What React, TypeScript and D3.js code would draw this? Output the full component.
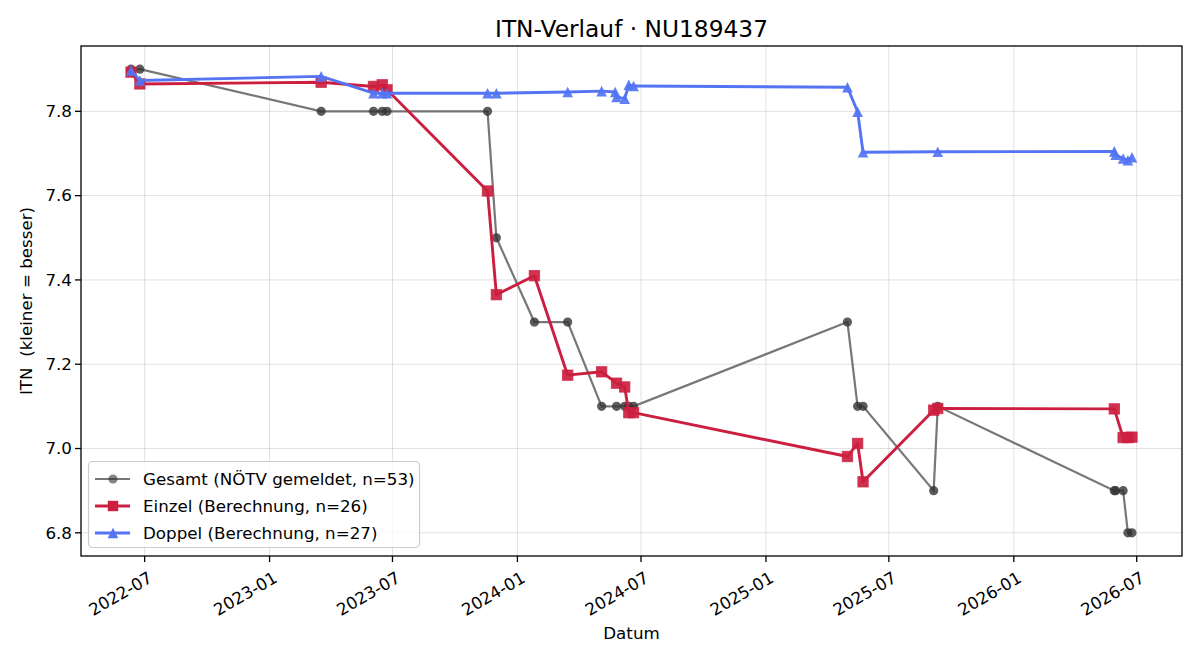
import React from "react";
import * as d3 from "d3";

// ---- data ----
const gesamtDates = [
  "2022-06-11", "2022-06-24", "2023-03-18", "2023-06-03", "2023-06-16", "2023-06-23",
  "2023-11-18", "2023-12-01", "2024-01-26", "2024-03-15", "2024-05-04", "2024-05-26",
  "2024-06-07", "2024-06-13", "2024-06-20", "2025-05-01", "2025-05-16", "2025-05-24",
  "2025-09-05", "2025-09-11", "2026-05-29", "2026-05-31", "2026-06-11", "2026-06-18",
  "2026-06-24",
];
const gesamtValues = [
  7.9, 7.9, 7.8, 7.8, 7.8, 7.8,
  7.8, 7.5, 7.3, 7.3, 7.1, 7.1,
  7.1, 7.1, 7.1, 7.3, 7.1, 7.1,
  6.9, 7.1, 6.9, 6.9, 6.9, 6.8,
  6.8,
];

const einzelDates = [
  "2022-06-11", "2022-06-24", "2023-03-18", "2023-06-03", "2023-06-16", "2023-06-23",
  "2023-11-18", "2023-12-01", "2024-01-26", "2024-03-15", "2024-05-04", "2024-05-26",
  "2024-06-07", "2024-06-13", "2024-06-20", "2025-05-01", "2025-05-16", "2025-05-24",
  "2025-09-05", "2025-09-11", "2026-05-29", "2026-06-11", "2026-06-18", "2026-06-24",
];
const einzelValues = [
  7.893, 7.865, 7.869, 7.859, 7.863, 7.851,
  7.611, 7.365, 7.41, 7.174, 7.182, 7.155,
  7.146, 7.085, 7.085, 6.981, 7.012, 6.921,
  7.091, 7.095, 7.094, 7.026, 7.026, 7.027,
];

const doppelDates = [
  "2022-06-11", "2022-06-24", "2023-03-18", "2023-06-03", "2023-06-16", "2023-06-23",
  "2023-11-18", "2023-12-01", "2024-03-15", "2024-05-04", "2024-05-24", "2024-05-26",
  "2024-06-07", "2024-06-13", "2024-06-20", "2025-05-01", "2025-05-16", "2025-05-24",
  "2025-09-11", "2026-05-29", "2026-05-31", "2026-06-11", "2026-06-18", "2026-06-24",
];
const doppelValues = [
  7.897, 7.873, 7.883, 7.843, 7.843, 7.843,
  7.843, 7.843, 7.846, 7.848, 7.846, 7.834,
  7.83, 7.863, 7.86, 7.857, 7.799, 7.703,
  7.704, 7.705, 7.697, 7.688, 7.684, 7.691,
];

const legendLabels = [
  "Gesamt (NÖTV gemeldet, n=53)",
  "Einzel (Berechnung, n=26)",
  "Doppel (Berechnung, n=27)",
];
const yTicks = [6.8, 7.0, 7.2, 7.4, 7.6, 7.8];

const parse = d3.timeParse("%Y-%m-%d");
const toPoints = (dates: string[], vals: number[]) =>
  dates.map((d, i) => ({ date: parse(d) as Date, v: vals[i] }));

const gesamt = toPoints(gesamtDates, gesamtValues);
const einzel = toPoints(einzelDates, einzelValues);
const doppel = toPoints(doppelDates, doppelValues);

const W = 1200, H = 660;
const M = { left: 81, right: 1182, top: 46, bottom: 556 };
const FONT = "DejaVu Sans, sans-serif";
const FS = 16.7;

export default function App() {
  const all = [...gesamt, ...einzel, ...doppel];
  const [t0, t1] = d3.extent(all, d => +d.date) as [number, number];
  const padT = (t1 - t0) * 0.05;
  const [v0, v1] = d3.extent(all, d => d.v) as [number, number];
  const padV = (v1 - v0) * 0.05;

  const x = d3.scaleTime().domain([new Date(t0 - padT), new Date(t1 + padT)]).range([M.left, M.right]);
  const y = d3.scaleLinear().domain([v0 - padV, v1 + padV]).range([M.bottom, M.top]);
  const xTicks = x.ticks(d3.timeMonth.every(6) as any);
  const fmt = d3.timeFormat("%Y-%m");

  const line = d3.line<{ date: Date; v: number }>().x(d => x(d.date)).y(d => y(d.v));

  const RED = "#cc1f40";
  const BLUE = "#5474f3";

  const tri = (cx: number, cy: number, s: number) =>
    `M${cx},${cy - s}L${cx - s},${cy + s}L${cx + s},${cy + s}Z`;

  const cx = (M.left + M.right) / 2;
  const cy = (M.top + M.bottom) / 2;

  return (
    <svg width={W} height={H} style={{ position: "absolute", left: 0, top: 0, background: "#fff" }} fontFamily={FONT}>
      <rect x={0} y={0} width={W} height={H} fill="#fff" />
      {/* grid */}
      <g stroke="#000" strokeOpacity={0.12} strokeWidth={1}>
        {xTicks.map((t, i) => (
          <line key={"gx" + i} x1={x(t)} x2={x(t)} y1={M.top} y2={M.bottom} />
        ))}
        {yTicks.map((t, i) => (
          <line key={"gy" + i} x1={M.left} x2={M.right} y1={y(t)} y2={y(t)} />
        ))}
      </g>

      {/* Gesamt */}
      <path d={line(gesamt) || ""} fill="none" stroke="#555" strokeOpacity={0.8} strokeWidth={2.2} />
      {gesamt.map((d, i) => (
        <circle key={"g" + i} cx={x(d.date)} cy={y(d.v)} r={4.6} fill="#333" fillOpacity={0.8} />
      ))}

      {/* Einzel */}
      <path d={line(einzel) || ""} fill="none" stroke={RED} strokeWidth={2.9} strokeLinejoin="round" />
      {einzel.map((d, i) => (
        <rect key={"e" + i} x={x(d.date) - 5.2} y={y(d.v) - 5.2} width={10.4} height={10.4}
          fill={RED} fillOpacity={0.92} stroke={RED} strokeOpacity={0.7} strokeWidth={1} />
      ))}

      {/* Doppel */}
      <path d={line(doppel) || ""} fill="none" stroke={BLUE} strokeWidth={2.9} strokeLinejoin="round" />
      {doppel.map((d, i) => (
        <path key={"d" + i} d={tri(x(d.date), y(d.v), 5.3)} fill={BLUE} fillOpacity={0.92} />
      ))}

      {/* spines */}
      <rect x={M.left} y={M.top} width={M.right - M.left} height={M.bottom - M.top}
        fill="none" stroke="#000" strokeWidth={1.3} />

      {/* x axis */}
      {xTicks.map((t, i) => (
        <g key={"xt" + i} transform={`translate(${x(t)},${M.bottom})`}>
          <line y2={6} stroke="#000" strokeWidth={1.3} />
          <text transform="translate(3,15) rotate(-30)" textAnchor="end" fontSize={FS} dy="0.71em" fill="#000">
            {fmt(t)}
          </text>
        </g>
      ))}
      <text x={cx} y={639} textAnchor="middle" fontSize={FS} fill="#000">Datum</text>

      {/* y axis */}
      {yTicks.map((t, i) => (
        <g key={"yt" + i} transform={`translate(${M.left},${y(t)})`}>
          <line x2={-6} stroke="#000" strokeWidth={1.3} />
          <text x={-9} dy="0.35em" textAnchor="end" fontSize={FS} fill="#000">{t.toFixed(1)}</text>
        </g>
      ))}
      <text transform={`translate(32,${cy}) rotate(-90)`} textAnchor="middle" fontSize={FS} fill="#000"
        style={{ whiteSpace: "pre" }}>
        {"ITN  (kleiner = besser)"}
      </text>

      {/* title */}
      <text x={cx} y={37} textAnchor="middle" fontSize={23.3} fill="#000">ITN-Verlauf · NU189437</text>

      {/* legend */}
      <g>
        <rect x={88.5} y={461.5} width={331} height={86} rx={4} fill="#fff" fillOpacity={0.8} stroke="#ccc" strokeWidth={1.2} />
        {legendLabels.map((lab, i) => {
          const ly = 479 + i * 27;
          const color = i === 0 ? "#555" : i === 1 ? RED : BLUE;
          return (
            <g key={"lg" + i}>
              <line x1={95} x2={130} y1={ly} y2={ly} stroke={color} strokeOpacity={i === 0 ? 0.8 : 1} strokeWidth={i === 0 ? 2.2 : 2.9} />
              {i === 0 && <circle cx={113} cy={ly} r={4.6} fill="#333" fillOpacity={0.6} />}
              {i === 1 && <rect x={107.8} y={ly - 5.2} width={10.4} height={10.4} fill={RED} />}
              {i === 2 && <path d={tri(113, ly, 5.3)} fill={BLUE} />}
              <text x={143} y={ly} dy="0.35em" fontSize={FS} fill="#000">{lab}</text>
            </g>
          );
        })}
      </g>
    </svg>
  );
}
